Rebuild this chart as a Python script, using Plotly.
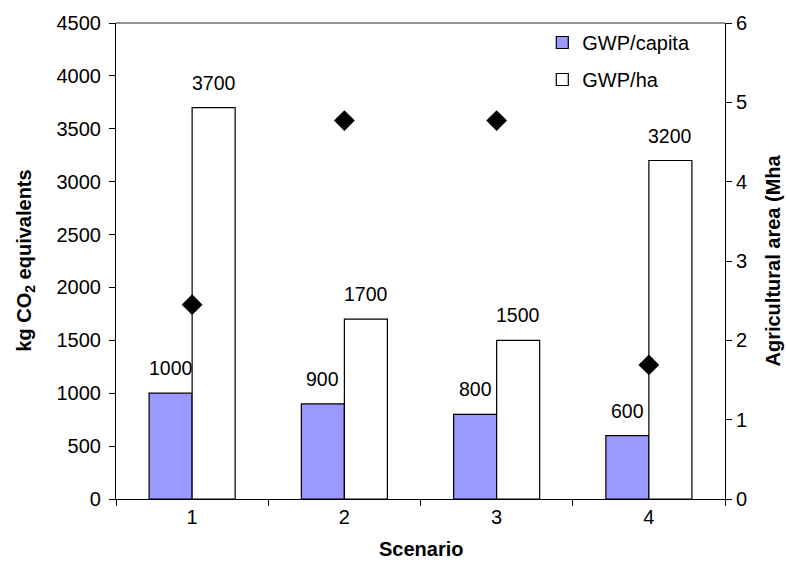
import plotly.graph_objects as go

# Scenario data
scenarios = ["1", "2", "3", "4"]
gwp_per_capita = [1000, 900, 800, 600]     # kg CO2 eq per capita
gwp_per_ha = [3700, 1700, 1500, 3200]      # kg CO2 eq per hectare
agri_area = [2.45, 4.77, 4.77, 1.69]       # agricultural area, Mha

FONT = "Liberation Sans, Arial, sans-serif"
BLUE = "#9999FF"
BARGAP = 0.435
half_w = (1 - BARGAP) / 4  # offset of each bar centre from the category centre
TICK_SIZE = 20

fig = go.Figure()

fig.add_trace(go.Bar(
    x=scenarios, y=gwp_per_capita, name="GWP/capita",
    marker=dict(color=BLUE, line=dict(color="black", width=1.2)),
    legendgroup="a",
))
fig.add_trace(go.Bar(
    x=scenarios, y=gwp_per_ha, name="GWP/ha",
    marker=dict(color="white", line=dict(color="black", width=1.2)),
    legendgroup="b",
))
fig.add_trace(go.Scatter(
    x=scenarios, y=agri_area, yaxis="y2", mode="markers",
    marker=dict(symbol="diamond", size=16, color="black"),
    showlegend=False, hoverinfo="y",
))

# value labels above the bars
annotations = []
for i, (c, h) in enumerate(zip(gwp_per_capita, gwp_per_ha)):
    annotations.append(dict(x=i - half_w, y=c, xref="x", yref="y", text=str(c),
                            showarrow=False, yshift=25,
                            font=dict(family=FONT, size=19.5, color="black")))
    annotations.append(dict(x=i + half_w, y=h, xref="x", yref="y", text=str(h),
                            showarrow=False, yshift=25,
                            font=dict(family=FONT, size=19.5, color="black")))

# axis titles
annotations.append(dict(x=0.5, y=-0.105, xref="paper", yref="paper",
                        text="<b>Scenario</b>", showarrow=False,
                        xanchor="center", yanchor="middle",
                        font=dict(family=FONT, size=20, color="black")))
annotations.append(dict(x=-0.15, y=0.5, xref="paper", yref="paper",
                        text="<b>kg CO<sub>2</sub> equivalents</b>", showarrow=False,
                        textangle=-90, xanchor="center", yanchor="middle",
                        font=dict(family=FONT, size=20, color="black")))
annotations.append(dict(x=1.078, y=0.5, xref="paper", yref="paper",
                        text="<b>Agricultural area (Mha</b>", showarrow=False,
                        textangle=-90, xanchor="center", yanchor="middle",
                        font=dict(family=FONT, size=20, color="black")))

fig.update_layout(
    width=787, height=569,
    margin=dict(l=116, r=62, t=20, b=70),
    paper_bgcolor="white", plot_bgcolor="white",
    barmode="group", bargap=BARGAP, bargroupgap=0,
    font=dict(family=FONT, size=TICK_SIZE, color="black"),
    xaxis=dict(
        type="category", tickson="boundaries", ticks="outside", ticklen=6,
        tickcolor="black", showline=True, linecolor="black", linewidth=1.2,
        showgrid=False, tickfont=dict(size=TICK_SIZE), zeroline=False,
    ),
    yaxis=dict(
        range=[0, 4500], dtick=500, ticks="outside", ticklen=6,
        tickcolor="black", showline=True, linecolor="black", linewidth=1.2,
        showgrid=False, zeroline=False, tickfont=dict(size=TICK_SIZE),
        ticklabelstandoff=4,
    ),
    yaxis2=dict(
        range=[0, 6], dtick=1, overlaying="y", side="right", ticks="outside",
        ticklen=6, tickcolor="black", showline=True, linecolor="black",
        linewidth=1.2, showgrid=False, zeroline=False,
        tickfont=dict(size=TICK_SIZE),
    ),
    legend=dict(
        x=0.7, y=1.0, xanchor="left", yanchor="top",
        bgcolor="rgba(255,255,255,0)", borderwidth=0,
        font=dict(family=FONT, size=20), traceorder="grouped",
        tracegroupgap=8,
    ),
    shapes=[dict(type="line", xref="paper", yref="paper", x0=0, x1=1, y0=1, y1=1,
                 line=dict(color="#707070", width=1.5))],
    annotations=annotations,
)

fig.write_html("out.html")
